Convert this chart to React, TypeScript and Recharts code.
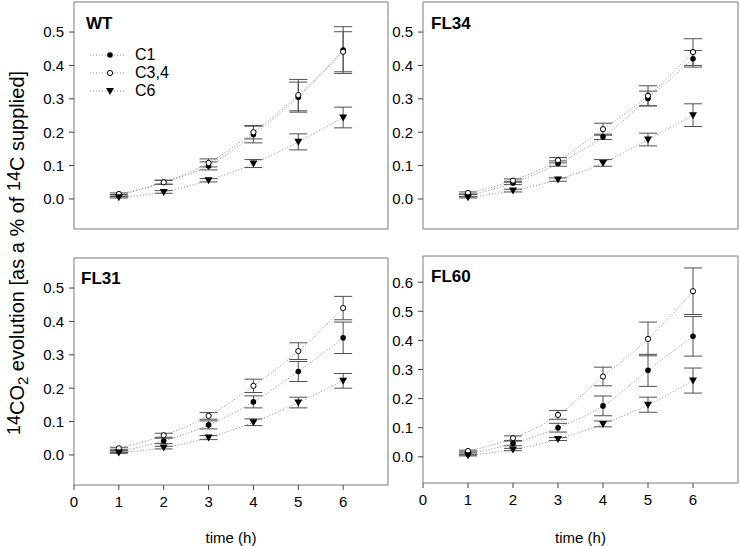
import React from 'react';
import { LineChart, Line, XAxis, YAxis, ErrorBar, ReferenceLine, Legend } from 'recharts';

const hours = [1, 2, 3, 4, 5, 6];
const seriesNames = ['C1', 'C3,4', 'C6'];
const xTicks = [0, 1, 2, 3, 4, 5, 6];
const yTicksLow = [0, 0.1, 0.2, 0.3, 0.4, 0.5];
const yTicksHigh = [0, 0.1, 0.2, 0.3, 0.4, 0.5, 0.6];

// WT
const wtC1 = [0.01, 0.05, 0.099, 0.193, 0.305, 0.446];
const wtC1Err = [0.003, 0.006, 0.012, 0.025, 0.045, 0.07];
const wtC34 = [0.015, 0.05, 0.108, 0.2, 0.311, 0.441];
const wtC34Err = [0.003, 0.006, 0.012, 0.02, 0.047, 0.06];
const wtC6 = [0.005, 0.021, 0.056, 0.106, 0.171, 0.244];
const wtC6Err = [0.002, 0.004, 0.005, 0.012, 0.024, 0.031];

// FL34
const fl34C1 = [0.01, 0.048, 0.106, 0.186, 0.301, 0.42];
const fl34C1Err = [0.003, 0.005, 0.008, 0.008, 0.022, 0.025];
const fl34C34 = [0.018, 0.055, 0.116, 0.209, 0.309, 0.44];
const fl34C34Err = [0.003, 0.005, 0.008, 0.018, 0.03, 0.04];
const fl34C6 = [0.005, 0.025, 0.058, 0.108, 0.178, 0.251];
const fl34C6Err = [0.002, 0.004, 0.005, 0.01, 0.019, 0.034];

// FL31
const fl31C1 = [0.01, 0.042, 0.09, 0.159, 0.25, 0.351];
const fl31C1Err = [0.003, 0.008, 0.012, 0.018, 0.03, 0.047];
const fl31C34 = [0.02, 0.059, 0.117, 0.207, 0.311, 0.44];
const fl31C34Err = [0.003, 0.006, 0.01, 0.02, 0.025, 0.035];
const fl31C6 = [0.007, 0.022, 0.052, 0.098, 0.157, 0.222];
const fl31C6Err = [0.002, 0.004, 0.006, 0.01, 0.016, 0.022];

// FL60
const fl60C1 = [0.01, 0.046, 0.1, 0.175, 0.297, 0.414];
const fl60C1Err = [0.003, 0.008, 0.015, 0.034, 0.055, 0.068];
const fl60C34 = [0.02, 0.064, 0.144, 0.276, 0.405, 0.569];
const fl60C34Err = [0.003, 0.008, 0.015, 0.032, 0.058, 0.08];
const fl60C6 = [0.005, 0.025, 0.061, 0.113, 0.179, 0.262];
const fl60C6Err = [0.002, 0.004, 0.005, 0.01, 0.026, 0.043];

const FONT = '"Liberation Sans", Arial, Helvetica, sans-serif';
const FRAME = '#7a7a7a';
const CURVE = '#8c8c8c';
const ERR = '#505050';

const build = (c1, c1e, c34, c34e, c6, c6e) =>
  hours.map((h, i) => ({ h, c1: c1[i], c1e: c1e[i], c34: c34[i], c34e: c34e[i], c6: c6[i], c6e: c6e[i] }));

const kindOf = { c1: 'filled', c34: 'open', c6: 'tri' };

const Marker = ({ kind, cx, cy }) => {
  if (cx == null || cy == null) return null;
  if (kind === 'tri') {
    return <path d={`M${cx - 4},${cy - 3} L${cx + 4},${cy - 3} L${cx},${cy + 4} Z`} fill="#000" />;
  }
  if (kind === 'open') {
    return <circle cx={cx} cy={cy} r={2.6} fill="#fff" stroke="#000" strokeWidth={1} />;
  }
  return <circle cx={cx} cy={cy} r={2.8} fill="#000" />;
};

const renderLegend = (props) => (
  <div style={{ fontFamily: FONT, fontSize: 16, color: '#000' }}>
    {(props.payload || []).map((entry) => (
      <div key={entry.value} style={{ display: 'flex', alignItems: 'center', height: 18 }}>
        <svg width={36} height={18}>
          <line x1={0} x2={36} y1={9} y2={9} stroke={CURVE} strokeDasharray="1 2" />
          <Marker kind={kindOf[entry.dataKey]} cx={20} cy={9} />
        </svg>
        <span style={{ marginLeft: 9 }}>{entry.value}</span>
      </div>
    ))}
  </div>
);

function Panel({ title, data, yMax, yTicks, labels, box, titleX, titleY, legend }) {
  const keys = ['c1', 'c34', 'c6'];
  return (
    <div style={{ position: 'absolute', left: box.left, top: box.top }}>
      <LineChart width={box.w} height={box.h} data={data} margin={box.margin} style={{ fontFamily: FONT }}>
        <XAxis
          dataKey="h"
          type="number"
          domain={[0, 7]}
          ticks={xTicks}
          allowDataOverflow
          height={box.xh}
          tickSize={5}
          tickMargin={6}
          stroke={FRAME}
          tickLine={{ stroke: '#444' }}
          tick={labels ? { fill: '#000', fontSize: 15 } : false}
          label={labels ? { value: 'time (h)', position: 'insideBottom', offset: 3, fill: '#000', fontSize: 15 } : undefined}
        />
        <YAxis
          type="number"
          domain={[-0.09, yMax]}
          ticks={yTicks}
          allowDataOverflow
          width={60}
          tickSize={5}
          tickMargin={5}
          stroke={FRAME}
          tickLine={{ stroke: '#444' }}
          tick={{ fill: '#000', fontSize: 15 }}
          tickFormatter={(v) => v.toFixed(1)}
        />
        <ReferenceLine y={yMax} stroke={FRAME} />
        <ReferenceLine x={7} stroke={FRAME} />
        {keys.map((k, i) => (
          <Line
            key={k}
            dataKey={k}
            name={seriesNames[i]}
            type="monotone"
            stroke={CURVE}
            strokeWidth={1}
            strokeDasharray="1 2"
            isAnimationActive={false}
            activeDot={false}
            dot={(p) => <Marker key={`${k}-${p.index}`} kind={kindOf[k]} cx={p.cx} cy={p.cy} />}
          >
            <ErrorBar dataKey={`${k}e`} direction="y" width={9} stroke={ERR} strokeWidth={1} />
          </Line>
        ))}
        {legend && (
          <Legend
            layout="vertical"
            align="center"
            verticalAlign="middle"
            content={renderLegend}
            wrapperStyle={{ position: 'absolute', left: 90, top: 46, width: 'auto', height: 'auto' }}
          />
        )}
        <text x={titleX} y={titleY} fontWeight="bold" fontSize={17} fill="#000" fontFamily={FONT}>
          {title}
        </text>
      </LineChart>
    </div>
  );
}

export default function App() {
  return (
    <div style={{ position: 'absolute', left: 0, top: 0, width: 740, height: 546, background: '#fff' }}>
      <Panel
        title="WT"
        data={build(wtC1, wtC1Err, wtC34, wtC34Err, wtC6, wtC6Err)}
        yMax={0.59}
        yTicks={yTicksLow}
        labels={false}
        legend
        titleX={86}
        titleY={29}
        box={{ left: 0, top: 0, w: 395, h: 250, xh: 21, margin: { top: 2, right: 7, left: 14, bottom: 0 } }}
      />
      <Panel
        title="FL34"
        data={build(fl34C1, fl34C1Err, fl34C34, fl34C34Err, fl34C6, fl34C6Err)}
        yMax={0.59}
        yTicks={yTicksLow}
        labels={false}
        titleX={68}
        titleY={29}
        box={{ left: 363, top: 0, w: 377, h: 250, xh: 21, margin: { top: 2, right: 2, left: 0, bottom: 0 } }}
      />
      <Panel
        title="FL31"
        data={build(fl31C1, fl31C1Err, fl31C34, fl31C34Err, fl31C6, fl31C6Err)}
        yMax={0.59}
        yTicks={yTicksLow}
        labels
        titleX={81}
        titleY={34}
        box={{ left: 0, top: 250, w: 395, h: 296, xh: 61, margin: { top: 8, right: 7, left: 14, bottom: 0 } }}
      />
      <Panel
        title="FL60"
        data={build(fl60C1, fl60C1Err, fl60C34, fl60C34Err, fl60C6, fl60C6Err)}
        yMax={0.69}
        yTicks={yTicksHigh}
        labels
        titleX={68}
        titleY={32}
        box={{ left: 363, top: 250, w: 377, h: 296, xh: 63, margin: { top: 6, right: 2, left: 0, bottom: 0 } }}
      />
      <svg style={{ position: 'absolute', left: 0, top: 0 }} width={34} height={546}>
        <text
          x={17}
          y={253}
          transform="rotate(-90 17 253)"
          textAnchor="middle"
          dominantBaseline="central"
          fontFamily={FONT}
          fontSize={20}
          fill="#000"
        >
          <tspan fontSize={18} dy={-3}>14</tspan>
          <tspan dy={3}>CO</tspan>
          <tspan fontSize={15} dy={5}>2</tspan>
          <tspan dy={-5}> evolution [as a % of </tspan>
          <tspan fontSize={18} dy={-3}>14</tspan>
          <tspan dy={3}>C supplied]</tspan>
        </text>
      </svg>
    </div>
  );
}
